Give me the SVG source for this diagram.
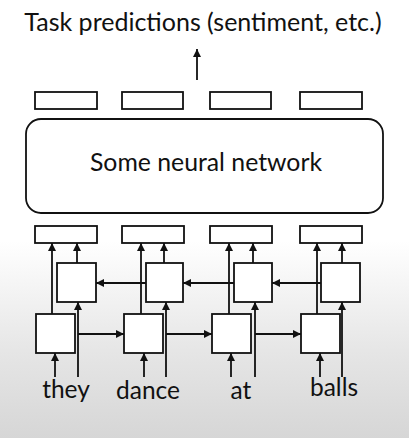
<svg xmlns="http://www.w3.org/2000/svg" width="409" height="438" viewBox="0 0 409 438">
<defs>
<linearGradient id="bg" x1="0" y1="0" x2="0" y2="1">
<stop offset="0" stop-color="#ffffff"/>
<stop offset="0.55" stop-color="#ffffff"/>
<stop offset="0.8" stop-color="#e6e6e6"/>
<stop offset="1" stop-color="#d6d6d6"/>
</linearGradient>
<marker id="ah" viewBox="0 0 10 10" refX="10" refY="5" markerWidth="4.5" markerHeight="4.5" orient="auto" markerUnits="strokeWidth">
<path d="M0,0 L10,5 L0,10 z" fill="#111"/>
</marker>
</defs>
<style>
.box{fill:#fff;stroke:#111;stroke-width:1.8}
.c{stroke:#111;stroke-width:1.8;fill:none;marker-end:url(#ah)}
.t{font-family:Lato,"Open Sans",sans-serif;fill:#111}
</style>
<rect x="0" y="0" width="409" height="438" fill="url(#bg)"/>
<g id="title"><text class="t" x="203" y="31" font-size="25" text-anchor="middle">Task predictions (sentiment, etc.)</text></g>
<g id="top-outputs">
<rect class="box" x="35" y="92" width="62" height="17"/>
<rect class="box" x="122" y="92" width="61" height="17"/>
<rect class="box" x="210" y="92" width="61" height="17"/>
<rect class="box" x="300" y="92" width="62" height="17"/>
</g>
<g id="network">
<rect class="box" x="26" y="119" width="357" height="94" rx="15"/>
<text class="t" x="206" y="171" font-size="24.8" text-anchor="middle">Some neural network</text>
</g>
<g id="embeddings">
<rect class="box" x="35" y="226" width="62" height="17"/>
<rect class="box" x="122" y="226" width="62" height="17"/>
<rect class="box" x="210" y="226" width="62" height="17"/>
<rect class="box" x="300" y="226" width="62" height="17"/>
</g>
<g id="backward-rnn">
<rect class="box" x="57" y="263" width="39" height="39"/>
<rect class="box" x="146" y="263" width="37" height="39"/>
<rect class="box" x="234" y="263" width="38" height="39"/>
<rect class="box" x="321" y="263" width="39" height="39"/>
</g>
<g id="forward-rnn">
<rect class="box" x="36" y="314" width="39" height="39"/>
<rect class="box" x="124" y="314" width="39" height="39"/>
<rect class="box" x="212" y="314" width="39" height="39"/>
<rect class="box" x="301" y="314" width="39" height="39"/>
</g>
<g id="connectors">
<line class="c" x1="197" y1="80" x2="197" y2="49"/>
<line class="c" x1="55" y1="377" x2="55" y2="353"/>
<line class="c" x1="144" y1="377" x2="144" y2="353"/>
<line class="c" x1="231" y1="377" x2="231" y2="353"/>
<line class="c" x1="320" y1="377" x2="320" y2="353"/>
<line class="c" x1="78" y1="377" x2="78" y2="302"/>
<line class="c" x1="166" y1="377" x2="166" y2="302"/>
<line class="c" x1="255" y1="377" x2="255" y2="302"/>
<line class="c" x1="342" y1="377" x2="342" y2="302"/>
<line class="c" x1="52" y1="314" x2="52" y2="243"/>
<line class="c" x1="141" y1="314" x2="141" y2="243"/>
<line class="c" x1="229" y1="314" x2="229" y2="243"/>
<line class="c" x1="317" y1="314" x2="317" y2="243"/>
<line class="c" x1="77" y1="263" x2="77" y2="243"/>
<line class="c" x1="164" y1="263" x2="164" y2="243"/>
<line class="c" x1="253" y1="263" x2="253" y2="243"/>
<line class="c" x1="342" y1="263" x2="342" y2="243"/>
<line class="c" x1="78" y1="334" x2="124" y2="334"/>
<line class="c" x1="166" y1="334" x2="212" y2="334"/>
<line class="c" x1="255" y1="334" x2="301" y2="334"/>
<line class="c" x1="146" y1="283" x2="96" y2="283"/>
<line class="c" x1="234" y1="283" x2="183" y2="283"/>
<line class="c" x1="321" y1="283" x2="272" y2="283"/>
</g>
<g id="words">
<text class="t" x="66" y="398" font-size="24.5" text-anchor="middle">they</text>
<text class="t" x="148" y="399" font-size="24.5" text-anchor="middle">dance</text>
<text class="t" x="241" y="399" font-size="24.5" text-anchor="middle">at</text>
<text class="t" x="334" y="396" font-size="24.5" text-anchor="middle">balls</text>
</g>
</svg>
